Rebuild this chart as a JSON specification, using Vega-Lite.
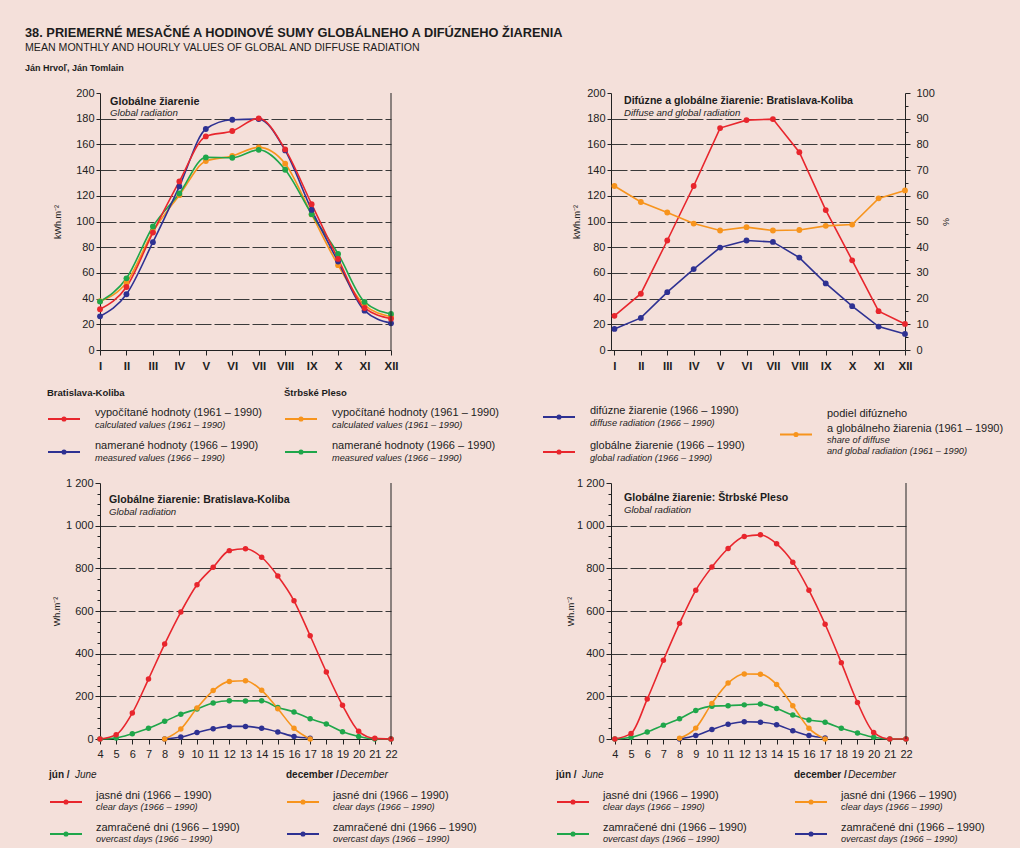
{
  "$schema": "https://vega.github.io/schema/vega-lite/v6.json",
  "background": "#f4e0da",
  "padding": {"left": 25, "top": 20, "right": 0, "bottom": 0},
  "autosize": {"type": "pad"},
  "columns": 2,
  "spacing": {"row": 0, "column": 220},
  "bounds": "flush",
  "align": "each",
  "datasets": {
    "header": [
      {"line": 0, "text": "38. PRIEMERNÉ MESAČNÉ A HODINOVÉ SUMY GLOBÁLNEHO A DIFÚZNEHO ŽIARENIA"},
      {"line": 1, "text": "MEAN MONTHLY AND HOURLY VALUES OF GLOBAL AND DIFFUSE RADIATION"},
      {"line": 2, "text": "Ján Hrvoľ, Ján Tomlain"}
    ],
    "monthly": [
      {"m": 1, "s": "sp_calc", "v": 38}, {"m": 2, "s": "sp_calc", "v": 52.5}, {"m": 3, "s": "sp_calc", "v": 92}, {"m": 4, "s": "sp_calc", "v": 120.5},
      {"m": 5, "s": "sp_calc", "v": 147}, {"m": 6, "s": "sp_calc", "v": 151}, {"m": 7, "s": "sp_calc", "v": 157.7}, {"m": 8, "s": "sp_calc", "v": 145},
      {"m": 9, "s": "sp_calc", "v": 105.5}, {"m": 10, "s": "sp_calc", "v": 66}, {"m": 11, "s": "sp_calc", "v": 35}, {"m": 12, "s": "sp_calc", "v": 26},
      {"m": 1, "s": "sp_meas", "v": 37.7}, {"m": 2, "s": "sp_meas", "v": 55.8}, {"m": 3, "s": "sp_meas", "v": 96.1}, {"m": 4, "s": "sp_meas", "v": 121.8},
      {"m": 5, "s": "sp_meas", "v": 149.9}, {"m": 6, "s": "sp_meas", "v": 149.6}, {"m": 7, "s": "sp_meas", "v": 155.8}, {"m": 8, "s": "sp_meas", "v": 140.3},
      {"m": 9, "s": "sp_meas", "v": 105.7}, {"m": 10, "s": "sp_meas", "v": 74.8}, {"m": 11, "s": "sp_meas", "v": 37.4}, {"m": 12, "s": "sp_meas", "v": 28},
      {"m": 1, "s": "bk_meas", "v": 26.2}, {"m": 2, "s": "bk_meas", "v": 43.4}, {"m": 3, "s": "bk_meas", "v": 83.9}, {"m": 4, "s": "bk_meas", "v": 127.3},
      {"m": 5, "s": "bk_meas", "v": 172}, {"m": 6, "s": "bk_meas", "v": 179.2}, {"m": 7, "s": "bk_meas", "v": 179.7}, {"m": 8, "s": "bk_meas", "v": 155.3},
      {"m": 9, "s": "bk_meas", "v": 109}, {"m": 10, "s": "bk_meas", "v": 68.8}, {"m": 11, "s": "bk_meas", "v": 30.6}, {"m": 12, "s": "bk_meas", "v": 20.8},
      {"m": 1, "s": "bk_calc", "v": 31.7}, {"m": 2, "s": "bk_calc", "v": 49}, {"m": 3, "s": "bk_calc", "v": 91.4}, {"m": 4, "s": "bk_calc", "v": 131.2},
      {"m": 5, "s": "bk_calc", "v": 166.2}, {"m": 6, "s": "bk_calc", "v": 170.4}, {"m": 7, "s": "bk_calc", "v": 180.3}, {"m": 8, "s": "bk_calc", "v": 156.1},
      {"m": 9, "s": "bk_calc", "v": 113.5}, {"m": 10, "s": "bk_calc", "v": 70.9}, {"m": 11, "s": "bk_calc", "v": 32.7}, {"m": 12, "s": "bk_calc", "v": 24.4}
    ],
    "diffuse": [
      {"m": 1, "s": "diff", "v": 16.4}, {"m": 2, "s": "diff", "v": 25}, {"m": 3, "s": "diff", "v": 45}, {"m": 4, "s": "diff", "v": 63},
      {"m": 5, "s": "diff", "v": 79.7}, {"m": 6, "s": "diff", "v": 85.2}, {"m": 7, "s": "diff", "v": 84.1}, {"m": 8, "s": "diff", "v": 71.9},
      {"m": 9, "s": "diff", "v": 51.8}, {"m": 10, "s": "diff", "v": 34.1}, {"m": 11, "s": "diff", "v": 18.2}, {"m": 12, "s": "diff", "v": 12.5},
      {"m": 1, "s": "glob", "v": 26.6}, {"m": 2, "s": "glob", "v": 43.8}, {"m": 3, "s": "glob", "v": 85.2}, {"m": 4, "s": "glob", "v": 127.6},
      {"m": 5, "s": "glob", "v": 172.7}, {"m": 6, "s": "glob", "v": 178.9}, {"m": 7, "s": "glob", "v": 179.7}, {"m": 8, "s": "glob", "v": 153.9},
      {"m": 9, "s": "glob", "v": 108.9}, {"m": 10, "s": "glob", "v": 69.8}, {"m": 11, "s": "glob", "v": 30.2}, {"m": 12, "s": "glob", "v": 20.3},
      {"m": 1, "s": "share", "v": 63.8}, {"m": 2, "s": "share", "v": 57.6}, {"m": 3, "s": "share", "v": 53.5}, {"m": 4, "s": "share", "v": 49.2},
      {"m": 5, "s": "share", "v": 46.5}, {"m": 6, "s": "share", "v": 47.8}, {"m": 7, "s": "share", "v": 46.5}, {"m": 8, "s": "share", "v": 46.7},
      {"m": 9, "s": "share", "v": 48.3}, {"m": 10, "s": "share", "v": 48.8}, {"m": 11, "s": "share", "v": 59}, {"m": 12, "s": "share", "v": 62.1}
    ],
    "hourlyBK": [
      {"h": 4, "s": "jun_over", "v": 0}, {"h": 5, "s": "jun_over", "v": 5}, {"h": 6, "s": "jun_over", "v": 25}, {"h": 7, "s": "jun_over", "v": 50},
      {"h": 8, "s": "jun_over", "v": 83}, {"h": 9, "s": "jun_over", "v": 116}, {"h": 10, "s": "jun_over", "v": 141}, {"h": 11, "s": "jun_over", "v": 169},
      {"h": 12, "s": "jun_over", "v": 179}, {"h": 13, "s": "jun_over", "v": 178}, {"h": 14, "s": "jun_over", "v": 179}, {"h": 15, "s": "jun_over", "v": 148},
      {"h": 16, "s": "jun_over", "v": 127}, {"h": 17, "s": "jun_over", "v": 95}, {"h": 18, "s": "jun_over", "v": 70}, {"h": 19, "s": "jun_over", "v": 34},
      {"h": 20, "s": "jun_over", "v": 12}, {"h": 21, "s": "jun_over", "v": 0}, {"h": 22, "s": "jun_over", "v": 0},
      {"h": 8, "s": "dec_over", "v": 0}, {"h": 9, "s": "dec_over", "v": 9}, {"h": 10, "s": "dec_over", "v": 30}, {"h": 11, "s": "dec_over", "v": 48},
      {"h": 12, "s": "dec_over", "v": 59}, {"h": 13, "s": "dec_over", "v": 59}, {"h": 14, "s": "dec_over", "v": 50}, {"h": 15, "s": "dec_over", "v": 33},
      {"h": 16, "s": "dec_over", "v": 12}, {"h": 17, "s": "dec_over", "v": 4},
      {"h": 8, "s": "dec_clear", "v": 0}, {"h": 9, "s": "dec_clear", "v": 47}, {"h": 10, "s": "dec_clear", "v": 145}, {"h": 11, "s": "dec_clear", "v": 227},
      {"h": 12, "s": "dec_clear", "v": 270}, {"h": 13, "s": "dec_clear", "v": 273}, {"h": 14, "s": "dec_clear", "v": 228}, {"h": 15, "s": "dec_clear", "v": 142},
      {"h": 16, "s": "dec_clear", "v": 50}, {"h": 17, "s": "dec_clear", "v": 0},
      {"h": 4, "s": "jun_clear", "v": 0}, {"h": 5, "s": "jun_clear", "v": 20}, {"h": 6, "s": "jun_clear", "v": 122}, {"h": 7, "s": "jun_clear", "v": 281},
      {"h": 8, "s": "jun_clear", "v": 445}, {"h": 9, "s": "jun_clear", "v": 595}, {"h": 10, "s": "jun_clear", "v": 723}, {"h": 11, "s": "jun_clear", "v": 805},
      {"h": 12, "s": "jun_clear", "v": 883}, {"h": 13, "s": "jun_clear", "v": 892}, {"h": 14, "s": "jun_clear", "v": 852}, {"h": 15, "s": "jun_clear", "v": 764},
      {"h": 16, "s": "jun_clear", "v": 648}, {"h": 17, "s": "jun_clear", "v": 484}, {"h": 18, "s": "jun_clear", "v": 314}, {"h": 19, "s": "jun_clear", "v": 158},
      {"h": 20, "s": "jun_clear", "v": 36}, {"h": 21, "s": "jun_clear", "v": 3}, {"h": 22, "s": "jun_clear", "v": 0}
    ],
    "hourlySP": [
      {"h": 4, "s": "jun_over", "v": 0}, {"h": 5, "s": "jun_over", "v": 8}, {"h": 6, "s": "jun_over", "v": 33}, {"h": 7, "s": "jun_over", "v": 65},
      {"h": 8, "s": "jun_over", "v": 95}, {"h": 9, "s": "jun_over", "v": 134}, {"h": 10, "s": "jun_over", "v": 154}, {"h": 11, "s": "jun_over", "v": 156},
      {"h": 12, "s": "jun_over", "v": 160}, {"h": 13, "s": "jun_over", "v": 164}, {"h": 14, "s": "jun_over", "v": 143}, {"h": 15, "s": "jun_over", "v": 112},
      {"h": 16, "s": "jun_over", "v": 89}, {"h": 17, "s": "jun_over", "v": 78}, {"h": 18, "s": "jun_over", "v": 50}, {"h": 19, "s": "jun_over", "v": 28},
      {"h": 20, "s": "jun_over", "v": 8}, {"h": 21, "s": "jun_over", "v": 0}, {"h": 22, "s": "jun_over", "v": 0},
      {"h": 8, "s": "dec_over", "v": 0}, {"h": 9, "s": "dec_over", "v": 16}, {"h": 10, "s": "dec_over", "v": 44}, {"h": 11, "s": "dec_over", "v": 69},
      {"h": 12, "s": "dec_over", "v": 81}, {"h": 13, "s": "dec_over", "v": 79}, {"h": 14, "s": "dec_over", "v": 67}, {"h": 15, "s": "dec_over", "v": 39},
      {"h": 16, "s": "dec_over", "v": 16}, {"h": 17, "s": "dec_over", "v": 5},
      {"h": 8, "s": "dec_clear", "v": 3}, {"h": 9, "s": "dec_clear", "v": 51}, {"h": 10, "s": "dec_clear", "v": 167}, {"h": 11, "s": "dec_clear", "v": 262},
      {"h": 12, "s": "dec_clear", "v": 305}, {"h": 13, "s": "dec_clear", "v": 304}, {"h": 14, "s": "dec_clear", "v": 256}, {"h": 15, "s": "dec_clear", "v": 156},
      {"h": 16, "s": "dec_clear", "v": 50}, {"h": 17, "s": "dec_clear", "v": 0},
      {"h": 4, "s": "jun_clear", "v": 0}, {"h": 5, "s": "jun_clear", "v": 26}, {"h": 6, "s": "jun_clear", "v": 187}, {"h": 7, "s": "jun_clear", "v": 369},
      {"h": 8, "s": "jun_clear", "v": 542}, {"h": 9, "s": "jun_clear", "v": 697}, {"h": 10, "s": "jun_clear", "v": 806}, {"h": 11, "s": "jun_clear", "v": 893},
      {"h": 12, "s": "jun_clear", "v": 949}, {"h": 13, "s": "jun_clear", "v": 957}, {"h": 14, "s": "jun_clear", "v": 915}, {"h": 15, "s": "jun_clear", "v": 829},
      {"h": 16, "s": "jun_clear", "v": 697}, {"h": 17, "s": "jun_clear", "v": 538}, {"h": 18, "s": "jun_clear", "v": 358}, {"h": 19, "s": "jun_clear", "v": 171},
      {"h": 20, "s": "jun_clear", "v": 31}, {"h": 21, "s": "jun_clear", "v": 0}, {"h": 22, "s": "jun_clear", "v": 0}
    ],
    "legendC": [
      {"col": 0, "row": 1, "s": "bk_calc", "sk": "vypočítané hodnoty (1961 – 1990)", "en": "calculated values (1961 – 1990)"},
      {"col": 0, "row": 2, "s": "bk_meas", "sk": "namerané hodnoty (1966 – 1990)", "en": "measured values (1966 – 1990)"},
      {"col": 1, "row": 1, "s": "sp_calc", "sk": "vypočítané hodnoty (1961 – 1990)", "en": "calculated values (1961 – 1990)"},
      {"col": 1, "row": 2, "s": "sp_meas", "sk": "namerané hodnoty (1966 – 1990)", "en": "measured values (1966 – 1990)"},
      {"col": 2, "row": 1, "s": "diff", "sk": "difúzne žiarenie (1966 – 1990)", "en": "diffuse radiation (1966 – 1990)"},
      {"col": 2, "row": 2, "s": "glob", "sk": "globálne žiarenie (1966 – 1990)", "en": "global radiation (1966 – 1990)"},
      {"col": 3, "row": 1.5, "s": "share", "skTop": "podiel difúzneho", "sk": "a globálneho žiarenia (1961 – 1990)", "en": "share of diffuse\nand global radiation (1961 – 1990)"}
    ],
    "headsC": [
      {"col": 0, "row": 0, "head": "Bratislava-Koliba"},
      {"col": 1, "row": 0, "head": "Štrbské Pleso"}
    ],
    "legendE": [
      {"col": 0, "row": 1, "s": "jun_clear", "sk": "jasné dni (1966 – 1990)", "en": "clear days (1966 – 1990)"},
      {"col": 0, "row": 2, "s": "jun_over", "sk": "zamračené dni (1966 – 1990)", "en": "overcast days (1966 – 1990)"},
      {"col": 1, "row": 1, "s": "dec_clear", "sk": "jasné dni (1966 – 1990)", "en": "clear days (1966 – 1990)"},
      {"col": 1, "row": 2, "s": "dec_over", "sk": "zamračené dni (1966 – 1990)", "en": "overcast days (1966 – 1990)"},
      {"col": 2, "row": 1, "s": "jun_clear", "sk": "jasné dni (1966 – 1990)", "en": "clear days (1966 – 1990)"},
      {"col": 2, "row": 2, "s": "jun_over", "sk": "zamračené dni (1966 – 1990)", "en": "overcast days (1966 – 1990)"},
      {"col": 3, "row": 1, "s": "dec_clear", "sk": "jasné dni (1966 – 1990)", "en": "clear days (1966 – 1990)"},
      {"col": 3, "row": 2, "s": "dec_over", "sk": "zamračené dni (1966 – 1990)", "en": "overcast days (1966 – 1990)"}
    ],
    "headsE": [
      {"col": 0, "row": 0, "month": "jun", "sk": "jún /", "en": "June"},
      {"col": 1, "row": 0, "month": "dec", "sk": "december /", "en": "December"},
      {"col": 2, "row": 0, "month": "jun", "sk": "jún /", "en": "June"},
      {"col": 3, "row": 0, "month": "dec", "sk": "december /", "en": "December"}
    ]
  },
  "concat": [
    {
      "width": 291,
      "height": 73,
      "data": {"name": "header"},
      "encoding": {
        "x": {"datum": 0, "type": "quantitative", "scale": {"domain": [0, 1], "range": [0, 291]}, "axis": null},
        "y": {"field": "line", "type": "quantitative", "scale": {"domain": [0, 1, 2], "range": [12.5, 28, 47.5], "nice": false, "zero": false}, "axis": null},
        "text": {"field": "text", "type": "nominal"}
      },
      "layer": [
        {"transform": [{"filter": "datum.line === 0"}], "mark": {"type": "text", "align": "left", "baseline": "middle", "dx": -75, "fontSize": 12.8, "fontWeight": "bold", "color": "#1c1c1c"}},
        {"transform": [{"filter": "datum.line === 1"}], "mark": {"type": "text", "align": "left", "baseline": "middle", "dx": -75, "fontSize": 10.6, "color": "#1c1c1c"}},
        {"transform": [{"filter": "datum.line === 2"}], "mark": {"type": "text", "align": "left", "baseline": "middle", "dx": -75, "fontSize": 9, "fontWeight": "bold", "color": "#1c1c1c"}}
      ]
    },
    {
      "width": 409,
      "height": 73,
      "data": {"values": []},
      "mark": {"type": "text"}
    },
    {
      "width": 291,
      "height": 257,
      "title": {"text": "Globálne žiarenie", "subtitle": "Global radiation", "anchor": "start", "frame": "group", "orient": "top", "offset": -31, "dx": 10, "fontSize": 10.8, "subtitleFontSize": 9.7, "subtitlePadding": 2},
      "layer": [
        {
          "data": {"name": "monthly"},
          "encoding": {
            "x": {"field": "m", "type": "quantitative", "scale": {"domain": [1, 12], "nice": false, "zero": false},
                  "axis": {"title": null, "values": [1, 2, 3, 4, 5, 6, 7, 8, 9, 10, 11, 12], "labelExpr": "['I','II','III','IV','V','VI','VII','VIII','IX','X','XI','XII'][datum.value - 1]", "grid": false, "tickSize": 5, "labelPadding": 5, "labelFlush": false, "labelFontSize": 11.5, "labelFontWeight": "bold"}},
            "y": {"field": "v", "type": "quantitative", "scale": {"domain": [0, 200], "nice": false},
                  "axis": {"title": "kWh.m⁻²", "titlePadding": 13, "values": [0, 20, 40, 60, 80, 100, 120, 140, 160, 180, 200], "tickSize": 4, "labelPadding": 2, "grid": true, "gridOpacity": {"condition": {"test": "datum.value > 0 && datum.value < 200", "value": 1}, "value": 0}}},
            "color": {"field": "s", "type": "nominal", "legend": null, "scale": {"domain": ["bk_calc", "bk_meas", "sp_calc", "sp_meas", "glob", "diff", "share", "jun_clear", "jun_over", "dec_clear", "dec_over"], "range": ["#e8262d", "#2e3192", "#f7941d", "#1fa64a", "#e8262d", "#2e3192", "#f7941d", "#e8262d", "#1fa64a", "#f7941d", "#2e3192"]}}
          },
          "layer": [
            {"mark": {"type": "line", "interpolate": "monotone", "strokeWidth": 1.6}},
            {"mark": {"type": "point", "filled": true, "size": 34, "opacity": 1}}
          ]
        },
        {
          "data": {"name": "monthly"},
          "transform": [{"aggregate": [{"op": "max", "field": "m", "as": "last"}]}],
          "mark": {"type": "rule", "color": "#222", "strokeWidth": 1},
          "encoding": {
            "x": {"field": "last", "type": "quantitative", "scale": {"domain": [1, 12], "nice": false, "zero": false},
                  "axis": {"title": null, "values": [1, 2, 3, 4, 5, 6, 7, 8, 9, 10, 11, 12], "labelExpr": "['I','II','III','IV','V','VI','VII','VIII','IX','X','XI','XII'][datum.value - 1]", "grid": false, "tickSize": 5, "labelPadding": 5, "labelFlush": false, "labelFontSize": 11.5, "labelFontWeight": "bold"}}
          }
        }
      ]
    },
    {
      "width": 294,
      "height": 257,
      "title": {"text": "Difúzne a globálne žiarenie: Bratislava-Koliba", "subtitle": "Diffuse and global radiation", "anchor": "start", "frame": "group", "orient": "top", "offset": -31, "dx": 13, "fontSize": 10.6, "subtitleFontSize": 9.6, "subtitlePadding": 2},
      "resolve": {"scale": {"y": "independent"}},
      "layer": [
        {
          "data": {"name": "diffuse"},
          "transform": [{"filter": "datum.s !== 'share'"}],
          "encoding": {
            "x": {"field": "m", "type": "quantitative", "scale": {"domain": [0.87, 12], "nice": false, "zero": false},
                  "axis": {"title": null, "values": [1, 2, 3, 4, 5, 6, 7, 8, 9, 10, 11, 12], "labelExpr": "['I','II','III','IV','V','VI','VII','VIII','IX','X','XI','XII'][datum.value - 1]", "grid": false, "tickSize": 5, "labelPadding": 5, "labelFlush": false, "labelFontSize": 11.5, "labelFontWeight": "bold"}},
            "y": {"field": "v", "type": "quantitative", "scale": {"domain": [0, 200], "nice": false},
                  "axis": {"title": "kWh.m⁻²", "titlePadding": 5, "values": [0, 20, 40, 60, 80, 100, 120, 140, 160, 180, 200], "tickSize": 4, "labelPadding": 2, "grid": true, "gridOpacity": {"condition": {"test": "datum.value > 0 && datum.value < 200", "value": 1}, "value": 0}}},
            "color": {"field": "s", "type": "nominal", "legend": null, "scale": {"domain": ["bk_calc", "bk_meas", "sp_calc", "sp_meas", "glob", "diff", "share", "jun_clear", "jun_over", "dec_clear", "dec_over"], "range": ["#e8262d", "#2e3192", "#f7941d", "#1fa64a", "#e8262d", "#2e3192", "#f7941d", "#e8262d", "#1fa64a", "#f7941d", "#2e3192"]}}
          },
          "layer": [
            {"mark": {"type": "line", "strokeWidth": 1.6}},
            {"mark": {"type": "point", "filled": true, "size": 34, "opacity": 1}}
          ]
        },
        {
          "data": {"name": "diffuse"},
          "transform": [{"filter": "datum.s === 'share'"}],
          "encoding": {
            "x": {"field": "m", "type": "quantitative", "scale": {"domain": [0.87, 12], "nice": false, "zero": false},
                  "axis": {"title": null, "values": [1, 2, 3, 4, 5, 6, 7, 8, 9, 10, 11, 12], "labelExpr": "['I','II','III','IV','V','VI','VII','VIII','IX','X','XI','XII'][datum.value - 1]", "grid": false, "tickSize": 5, "labelPadding": 5, "labelFlush": false, "labelFontSize": 11.5, "labelFontWeight": "bold"}},
            "y": {"field": "v", "type": "quantitative", "scale": {"domain": [0, 100], "nice": false},
                  "axis": {"orient": "right", "title": "%", "titlePadding": 6, "values": [0, 5, 10, 15, 20, 25, 30, 35, 40, 45, 50, 55, 60, 65, 70, 75, 80, 85, 90, 95, 100], "labelExpr": "datum.value % 10 === 0 ? datum.value : ''", "tickSize": {"condition": {"test": "datum.value % 10 === 0", "value": 5}, "value": 3}, "labelPadding": 6, "grid": false}},
            "color": {"field": "s", "type": "nominal", "legend": null, "scale": {"domain": ["bk_calc", "bk_meas", "sp_calc", "sp_meas", "glob", "diff", "share", "jun_clear", "jun_over", "dec_clear", "dec_over"], "range": ["#e8262d", "#2e3192", "#f7941d", "#1fa64a", "#e8262d", "#2e3192", "#f7941d", "#e8262d", "#1fa64a", "#f7941d", "#2e3192"]}}
          },
          "layer": [
            {"mark": {"type": "line", "strokeWidth": 1.6}},
            {"mark": {"type": "point", "filled": true, "size": 34, "opacity": 1}}
          ]
        }
      ]
    },
    {
      "width": 291,
      "height": 133,
      "encoding": {
        "x": {"field": "col", "type": "quantitative", "scale": {"domain": [0, 1], "range": [-36, 201], "nice": false, "zero": false}, "axis": null},
        "y": {"field": "row", "type": "quantitative", "scale": {"domain": [0, 1, 2], "range": [43, 69, 102], "nice": false, "zero": false}, "axis": null}
      },
      "layer": [
        {
          "data": {"name": "legendC"},
          "transform": [{"filter": "datum.col <= 1"}],
          "mark": {"type": "tick", "orient": "horizontal", "size": 32, "thickness": 2, "opacity": 1},
          "encoding": {"color": {"field": "s", "type": "nominal", "legend": null, "scale": {"domain": ["bk_calc", "bk_meas", "sp_calc", "sp_meas", "glob", "diff", "share", "jun_clear", "jun_over", "dec_clear", "dec_over"], "range": ["#e8262d", "#2e3192", "#f7941d", "#1fa64a", "#e8262d", "#2e3192", "#f7941d", "#e8262d", "#1fa64a", "#f7941d", "#2e3192"]}}}
        },
        {
          "data": {"name": "legendC"},
          "transform": [{"filter": "datum.col <= 1"}],
          "mark": {"type": "point", "filled": true, "size": 26, "opacity": 1},
          "encoding": {"color": {"field": "s", "type": "nominal", "legend": null, "scale": {"domain": ["bk_calc", "bk_meas", "sp_calc", "sp_meas", "glob", "diff", "share", "jun_clear", "jun_over", "dec_clear", "dec_over"], "range": ["#e8262d", "#2e3192", "#f7941d", "#1fa64a", "#e8262d", "#2e3192", "#f7941d", "#e8262d", "#1fa64a", "#f7941d", "#2e3192"]}}}
        },
        {
          "data": {"name": "legendC"},
          "transform": [{"filter": "datum.col <= 1"}],
          "mark": {"type": "text", "align": "left", "baseline": "bottom", "dx": 31, "dy": -1, "fontSize": 11, "color": "#1c1c1c"},
          "encoding": {"text": {"field": "sk", "type": "nominal"}}
        },
        {
          "data": {"name": "legendC"},
          "transform": [{"filter": "datum.col <= 1"}],
          "mark": {"type": "text", "align": "left", "baseline": "top", "dx": 31, "dy": 1.5, "fontSize": 9.2, "fontStyle": "italic", "color": "#1c1c1c"},
          "encoding": {"text": {"field": "en", "type": "nominal"}}
        },
        {
          "data": {"name": "headsC"},
          "mark": {"type": "text", "align": "left", "baseline": "middle", "dx": -17, "fontSize": 9.5, "fontWeight": "bold", "color": "#1c1c1c"},
          "encoding": {"text": {"field": "head", "type": "nominal"}}
        }
      ]
    },
    {
      "width": 409,
      "height": 133,
      "encoding": {
        "x": {"field": "col", "type": "quantitative", "scale": {"domain": [2, 3], "range": [-52, 185], "nice": false, "zero": false}, "axis": null},
        "y": {"field": "row", "type": "quantitative", "scale": {"domain": [0, 1, 2], "range": [43, 67, 102], "nice": false, "zero": false}, "axis": null}
      },
      "layer": [
        {
          "data": {"name": "legendC"},
          "transform": [{"filter": "datum.col >= 2"}],
          "mark": {"type": "tick", "orient": "horizontal", "size": 32, "thickness": 2, "opacity": 1},
          "encoding": {"color": {"field": "s", "type": "nominal", "legend": null, "scale": {"domain": ["bk_calc", "bk_meas", "sp_calc", "sp_meas", "glob", "diff", "share", "jun_clear", "jun_over", "dec_clear", "dec_over"], "range": ["#e8262d", "#2e3192", "#f7941d", "#1fa64a", "#e8262d", "#2e3192", "#f7941d", "#e8262d", "#1fa64a", "#f7941d", "#2e3192"]}}}
        },
        {
          "data": {"name": "legendC"},
          "transform": [{"filter": "datum.col >= 2"}],
          "mark": {"type": "point", "filled": true, "size": 26, "opacity": 1},
          "encoding": {"color": {"field": "s", "type": "nominal", "legend": null, "scale": {"domain": ["bk_calc", "bk_meas", "sp_calc", "sp_meas", "glob", "diff", "share", "jun_clear", "jun_over", "dec_clear", "dec_over"], "range": ["#e8262d", "#2e3192", "#f7941d", "#1fa64a", "#e8262d", "#2e3192", "#f7941d", "#e8262d", "#1fa64a", "#f7941d", "#2e3192"]}}}
        },
        {
          "data": {"name": "legendC"},
          "transform": [{"filter": "datum.col >= 2"}],
          "mark": {"type": "text", "align": "left", "baseline": "bottom", "dx": 31, "dy": -1, "fontSize": 11, "color": "#1c1c1c"},
          "encoding": {"text": {"field": "sk", "type": "nominal"}}
        },
        {
          "data": {"name": "legendC"},
          "transform": [{"filter": "datum.col >= 2 && isValid(datum.skTop)"}],
          "mark": {"type": "text", "align": "left", "baseline": "bottom", "dx": 31, "dy": -16, "fontSize": 11, "color": "#1c1c1c"},
          "encoding": {"text": {"field": "skTop", "type": "nominal"}}
        },
        {
          "data": {"name": "legendC"},
          "transform": [{"filter": "datum.col >= 2"}],
          "mark": {"type": "text", "align": "left", "baseline": "top", "dx": 31, "dy": 1.5, "fontSize": 9.2, "fontStyle": "italic", "lineBreak": "\n", "lineHeight": 11, "color": "#1c1c1c"},
          "encoding": {"text": {"field": "en", "type": "nominal"}}
        }
      ]
    },
    {
      "width": 291,
      "height": 256,
      "title": {"text": "Globálne žiarenie: Bratislava-Koliba", "subtitle": "Global radiation", "anchor": "start", "frame": "group", "orient": "top", "offset": -40, "dx": 9, "fontSize": 10.6, "subtitleFontSize": 9.6, "subtitlePadding": 2},
      "layer": [
        {
          "data": {"name": "hourlyBK"},
          "encoding": {
            "x": {"field": "h", "type": "quantitative", "scale": {"domain": [4, 22], "nice": false, "zero": false},
                  "axis": {"title": null, "values": [4, 5, 6, 7, 8, 9, 10, 11, 12, 13, 14, 15, 16, 17, 18, 19, 20, 21, 22], "grid": false, "tickSize": 5, "labelPadding": 4, "labelFlush": false, "labelFontSize": 11}},
            "y": {"field": "v", "type": "quantitative", "scale": {"domain": [0, 1200], "nice": false},
                  "axis": {"title": "Wh.m⁻²", "titlePadding": 4, "values": [0, 50, 100, 150, 200, 250, 300, 350, 400, 450, 500, 550, 600, 650, 700, 750, 800, 850, 900, 950, 1000, 1050, 1100, 1150, 1200], "labelExpr": "datum.value % 200 === 0 ? replace(format(datum.value, ','), ',', ' ') : ''", "tickSize": {"condition": {"test": "datum.value % 200 === 0", "value": 5}, "value": 3}, "labelPadding": 2, "grid": true, "gridOpacity": {"condition": {"test": "datum.value % 200 === 0 && datum.value > 0 && datum.value < 1200", "value": 1}, "value": 0}}},
            "color": {"field": "s", "type": "nominal", "legend": null, "scale": {"domain": ["bk_calc", "bk_meas", "sp_calc", "sp_meas", "glob", "diff", "share", "jun_clear", "jun_over", "dec_clear", "dec_over"], "range": ["#e8262d", "#2e3192", "#f7941d", "#1fa64a", "#e8262d", "#2e3192", "#f7941d", "#e8262d", "#1fa64a", "#f7941d", "#2e3192"]}}
          },
          "layer": [
            {"mark": {"type": "line", "interpolate": "monotone", "strokeWidth": 1.6}},
            {"mark": {"type": "point", "filled": true, "size": 30, "opacity": 1}}
          ]
        },
        {
          "data": {"name": "hourlyBK"},
          "transform": [{"aggregate": [{"op": "max", "field": "h", "as": "last"}]}],
          "mark": {"type": "rule", "color": "#222", "strokeWidth": 1},
          "encoding": {
            "x": {"field": "last", "type": "quantitative", "scale": {"domain": [4, 22], "nice": false, "zero": false},
                  "axis": {"title": null, "values": [4, 5, 6, 7, 8, 9, 10, 11, 12, 13, 14, 15, 16, 17, 18, 19, 20, 21, 22], "grid": false, "tickSize": 5, "labelPadding": 4, "labelFlush": false, "labelFontSize": 11}}
          }
        }
      ]
    },
    {
      "width": 295,
      "height": 256,
      "title": {"text": "Globálne žiarenie: Štrbské Pleso", "subtitle": "Global radiation", "anchor": "start", "frame": "group", "orient": "top", "offset": -38, "dx": 13, "fontSize": 10.6, "subtitleFontSize": 9.6, "subtitlePadding": 2},
      "layer": [
        {
          "data": {"name": "hourlySP"},
          "encoding": {
            "x": {"field": "h", "type": "quantitative", "scale": {"domain": [3.76, 22], "nice": false, "zero": false},
                  "axis": {"title": null, "values": [4, 5, 6, 7, 8, 9, 10, 11, 12, 13, 14, 15, 16, 17, 18, 19, 20, 21, 22], "grid": false, "tickSize": 5, "labelPadding": 4, "labelFlush": false, "labelFontSize": 11}},
            "y": {"field": "v", "type": "quantitative", "scale": {"domain": [0, 1200], "nice": false},
                  "axis": {"title": "Wh.m⁻²", "titlePadding": 1, "values": [0, 50, 100, 150, 200, 250, 300, 350, 400, 450, 500, 550, 600, 650, 700, 750, 800, 850, 900, 950, 1000, 1050, 1100, 1150, 1200], "labelExpr": "datum.value % 200 === 0 ? replace(format(datum.value, ','), ',', ' ') : ''", "tickSize": {"condition": {"test": "datum.value % 200 === 0", "value": 5}, "value": 3}, "labelPadding": 2, "grid": true, "gridOpacity": {"condition": {"test": "datum.value % 200 === 0 && datum.value > 0 && datum.value < 1200", "value": 1}, "value": 0}}},
            "color": {"field": "s", "type": "nominal", "legend": null, "scale": {"domain": ["bk_calc", "bk_meas", "sp_calc", "sp_meas", "glob", "diff", "share", "jun_clear", "jun_over", "dec_clear", "dec_over"], "range": ["#e8262d", "#2e3192", "#f7941d", "#1fa64a", "#e8262d", "#2e3192", "#f7941d", "#e8262d", "#1fa64a", "#f7941d", "#2e3192"]}}
          },
          "layer": [
            {"mark": {"type": "line", "interpolate": "monotone", "strokeWidth": 1.6}},
            {"mark": {"type": "point", "filled": true, "size": 30, "opacity": 1}}
          ]
        },
        {
          "data": {"name": "hourlySP"},
          "transform": [{"aggregate": [{"op": "max", "field": "h", "as": "last"}]}],
          "mark": {"type": "rule", "color": "#222", "strokeWidth": 1},
          "encoding": {
            "x": {"field": "last", "type": "quantitative", "scale": {"domain": [3.76, 22], "nice": false, "zero": false},
                  "axis": {"title": null, "values": [4, 5, 6, 7, 8, 9, 10, 11, 12, 13, 14, 15, 16, 17, 18, 19, 20, 21, 22], "grid": false, "tickSize": 5, "labelPadding": 4, "labelFlush": false, "labelFontSize": 11}}
          }
        }
      ]
    },
    {
      "width": 291,
      "height": 109,
      "encoding": {
        "x": {"field": "col", "type": "quantitative", "scale": {"domain": [0, 1], "range": [-34, 203], "nice": false, "zero": false}, "axis": null},
        "y": {"field": "row", "type": "quantitative", "scale": {"domain": [0, 1, 2], "range": [36, 63, 95], "nice": false, "zero": false}, "axis": null}
      },
      "layer": [
        {
          "data": {"name": "legendE"},
          "transform": [{"filter": "datum.col <= 1"}],
          "mark": {"type": "tick", "orient": "horizontal", "size": 32, "thickness": 2, "opacity": 1},
          "encoding": {"color": {"field": "s", "type": "nominal", "legend": null, "scale": {"domain": ["bk_calc", "bk_meas", "sp_calc", "sp_meas", "glob", "diff", "share", "jun_clear", "jun_over", "dec_clear", "dec_over"], "range": ["#e8262d", "#2e3192", "#f7941d", "#1fa64a", "#e8262d", "#2e3192", "#f7941d", "#e8262d", "#1fa64a", "#f7941d", "#2e3192"]}}}
        },
        {
          "data": {"name": "legendE"},
          "transform": [{"filter": "datum.col <= 1"}],
          "mark": {"type": "point", "filled": true, "size": 26, "opacity": 1},
          "encoding": {"color": {"field": "s", "type": "nominal", "legend": null, "scale": {"domain": ["bk_calc", "bk_meas", "sp_calc", "sp_meas", "glob", "diff", "share", "jun_clear", "jun_over", "dec_clear", "dec_over"], "range": ["#e8262d", "#2e3192", "#f7941d", "#1fa64a", "#e8262d", "#2e3192", "#f7941d", "#e8262d", "#1fa64a", "#f7941d", "#2e3192"]}}}
        },
        {
          "data": {"name": "legendE"},
          "transform": [{"filter": "datum.col <= 1"}],
          "mark": {"type": "text", "align": "left", "baseline": "bottom", "dx": 30, "dy": -1.5, "fontSize": 11, "color": "#1c1c1c"},
          "encoding": {"text": {"field": "sk", "type": "nominal"}}
        },
        {
          "data": {"name": "legendE"},
          "transform": [{"filter": "datum.col <= 1"}],
          "mark": {"type": "text", "align": "left", "baseline": "top", "dx": 30, "dy": 1, "fontSize": 9.2, "fontStyle": "italic", "color": "#1c1c1c"},
          "encoding": {"text": {"field": "en", "type": "nominal"}}
        },
        {
          "data": {"name": "headsE"},
          "transform": [{"filter": "datum.col <= 1"}],
          "mark": {"type": "text", "align": "left", "baseline": "middle", "dx": -17, "fontSize": 10, "fontWeight": "bold", "color": "#1c1c1c"},
          "encoding": {"text": {"field": "sk", "type": "nominal"}}
        },
        {
          "data": {"name": "headsE"},
          "transform": [{"filter": "datum.col <= 1 && datum.month === 'jun'"}],
          "mark": {"type": "text", "align": "left", "baseline": "middle", "dx": 9, "fontSize": 10, "fontStyle": "italic", "color": "#1c1c1c"},
          "encoding": {"text": {"field": "en", "type": "nominal"}}
        },
        {
          "data": {"name": "headsE"},
          "transform": [{"filter": "datum.col <= 1 && datum.month === 'dec'"}],
          "mark": {"type": "text", "align": "left", "baseline": "middle", "dx": 37, "fontSize": 10.4, "fontStyle": "italic", "color": "#1c1c1c"},
          "encoding": {"text": {"field": "en", "type": "nominal"}}
        }
      ]
    },
    {
      "width": 409,
      "height": 109,
      "encoding": {
        "x": {"field": "col", "type": "quantitative", "scale": {"domain": [2, 3], "range": [-38, 200], "nice": false, "zero": false}, "axis": null},
        "y": {"field": "row", "type": "quantitative", "scale": {"domain": [0, 1, 2], "range": [36, 63, 95], "nice": false, "zero": false}, "axis": null}
      },
      "layer": [
        {
          "data": {"name": "legendE"},
          "transform": [{"filter": "datum.col >= 2"}],
          "mark": {"type": "tick", "orient": "horizontal", "size": 32, "thickness": 2, "opacity": 1},
          "encoding": {"color": {"field": "s", "type": "nominal", "legend": null, "scale": {"domain": ["bk_calc", "bk_meas", "sp_calc", "sp_meas", "glob", "diff", "share", "jun_clear", "jun_over", "dec_clear", "dec_over"], "range": ["#e8262d", "#2e3192", "#f7941d", "#1fa64a", "#e8262d", "#2e3192", "#f7941d", "#e8262d", "#1fa64a", "#f7941d", "#2e3192"]}}}
        },
        {
          "data": {"name": "legendE"},
          "transform": [{"filter": "datum.col >= 2"}],
          "mark": {"type": "point", "filled": true, "size": 26, "opacity": 1},
          "encoding": {"color": {"field": "s", "type": "nominal", "legend": null, "scale": {"domain": ["bk_calc", "bk_meas", "sp_calc", "sp_meas", "glob", "diff", "share", "jun_clear", "jun_over", "dec_clear", "dec_over"], "range": ["#e8262d", "#2e3192", "#f7941d", "#1fa64a", "#e8262d", "#2e3192", "#f7941d", "#e8262d", "#1fa64a", "#f7941d", "#2e3192"]}}}
        },
        {
          "data": {"name": "legendE"},
          "transform": [{"filter": "datum.col >= 2"}],
          "mark": {"type": "text", "align": "left", "baseline": "bottom", "dx": 30, "dy": -1.5, "fontSize": 11, "color": "#1c1c1c"},
          "encoding": {"text": {"field": "sk", "type": "nominal"}}
        },
        {
          "data": {"name": "legendE"},
          "transform": [{"filter": "datum.col >= 2"}],
          "mark": {"type": "text", "align": "left", "baseline": "top", "dx": 30, "dy": 1, "fontSize": 9.2, "fontStyle": "italic", "color": "#1c1c1c"},
          "encoding": {"text": {"field": "en", "type": "nominal"}}
        },
        {
          "data": {"name": "headsE"},
          "transform": [{"filter": "datum.col >= 2"}],
          "mark": {"type": "text", "align": "left", "baseline": "middle", "dx": -17, "fontSize": 10, "fontWeight": "bold", "color": "#1c1c1c"},
          "encoding": {"text": {"field": "sk", "type": "nominal"}}
        },
        {
          "data": {"name": "headsE"},
          "transform": [{"filter": "datum.col >= 2 && datum.month === 'jun'"}],
          "mark": {"type": "text", "align": "left", "baseline": "middle", "dx": 9, "fontSize": 10, "fontStyle": "italic", "color": "#1c1c1c"},
          "encoding": {"text": {"field": "en", "type": "nominal"}}
        },
        {
          "data": {"name": "headsE"},
          "transform": [{"filter": "datum.col >= 2 && datum.month === 'dec'"}],
          "mark": {"type": "text", "align": "left", "baseline": "middle", "dx": 37, "fontSize": 10.4, "fontStyle": "italic", "color": "#1c1c1c"},
          "encoding": {"text": {"field": "en", "type": "nominal"}}
        }
      ]
    }
  ],
  "config": {
    "view": {"stroke": null},
    "font": "Liberation Sans",
    "text": {"font": "Liberation Sans"},
    "title": {"font": "Liberation Sans", "fontWeight": "bold", "color": "#1c1c1c", "subtitleFont": "Liberation Sans", "subtitleFontStyle": "italic", "subtitleColor": "#1c1c1c"},
    "axis": {
      "domainColor": "#222",
      "domainWidth": 1,
      "tickColor": "#222",
      "tickWidth": 1,
      "labelColor": "#222",
      "labelFont": "Liberation Sans",
      "labelFontSize": 11,
      "labelOverlap": false,
      "titleFont": "Liberation Sans",
      "titleFontSize": 9,
      "titleFontWeight": "normal",
      "titleColor": "#222",
      "gridColor": "#3a3a3a",
      "gridDash": [16, 3],
      "gridWidth": 1
    }
  }
}
